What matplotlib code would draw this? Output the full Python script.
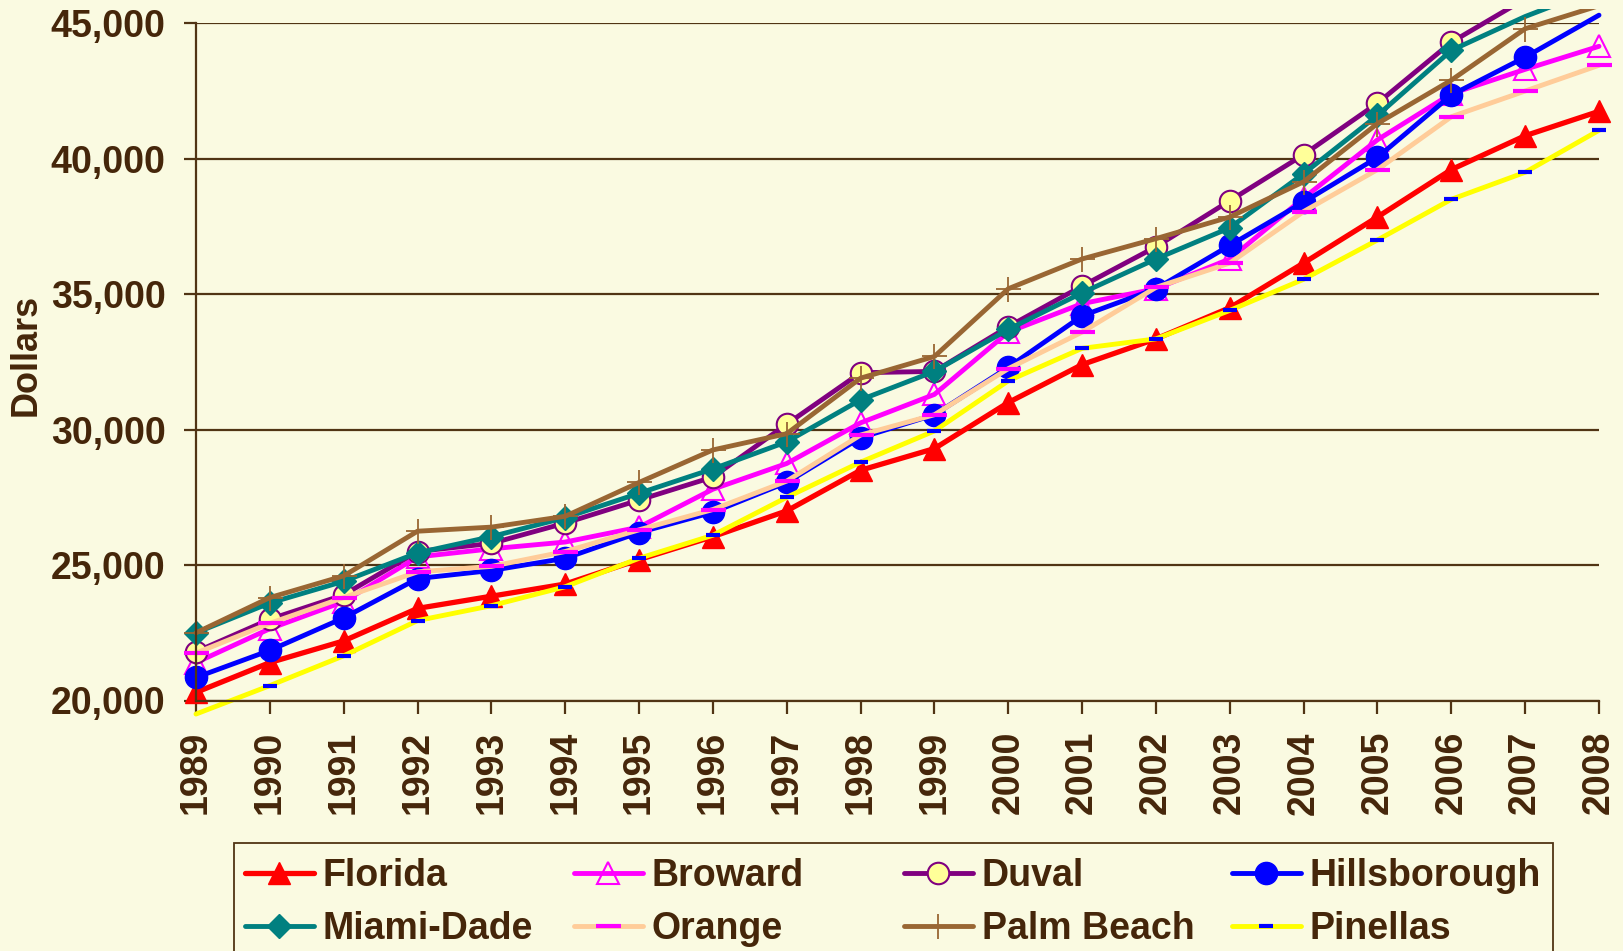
import matplotlib
matplotlib.use("Agg")
import matplotlib.pyplot as plt
from matplotlib.ticker import StrMethodFormatter
from matplotlib.transforms import Bbox, TransformedBbox
from matplotlib.patches import Rectangle

# ---------------- data ----------------
years = list(range(1989, 2009))
year_labels = [str(y) for y in years]

florida = [20300, 21400, 22200, 23400, 23850, 24300, 25200, 26050, 27000, 28500,
           29300, 31000, 32400, 33350, 34500, 36150, 37850, 39600, 40850, 41750]
broward = [21400, 22650, 23650, 25300, 25600, 25850, 26400, 27800, 28750, 30250,
           31300, 33600, 34650, 35200, 36300, 38550, 40700, 42400, 43300, 44150]
duval = [21800, 23000, 23900, 25500, 25800, 26550, 27400, 28250, 30200, 32100,
         32150, 33800, 35300, 36750, 38450, 40150, 42050, 44300, 45900, 47200]
hillsborough = [20850, 21850, 23050, 24500, 24800, 25250, 26200, 26950, 28050, 29700,
                30550, 32300, 34200, 35200, 36800, 38400, 40050, 42350, 43750, 45300]
miami_dade = [22500, 23600, 24400, 25450, 26050, 26750, 27650, 28550, 29550, 31100,
              32150, 33700, 35050, 36300, 37450, 39450, 41600, 44000, 45250, 46300]
orange = [21750, 22850, 23800, 24750, 24950, 25500, 26300, 27050, 28100, 29800,
          30550, 32250, 33600, 35250, 36150, 38050, 39600, 41550, 42500, 43450]
palm_beach = [22500, 23800, 24600, 26250, 26400, 26800, 28050, 29250, 29850, 31900,
              32700, 35200, 36300, 37050, 37850, 39150, 41300, 42900, 44800, 45650]
pinellas = [19500, 20550, 21650, 22950, 23500, 24200, 25250, 26100, 27500, 28800,
            29950, 31800, 33000, 33350, 34400, 35550, 37000, 38500, 39500, 41050]

series_names = ["Florida", "Broward", "Duval", "Hillsborough",
                "Miami-Dade", "Orange", "Palm Beach", "Pinellas"]
series_values = [florida, broward, duval, hillsborough,
                 miami_dade, orange, palm_beach, pinellas]

y_ticks = [20000, 25000, 30000, 35000, 40000, 45000]
y_min, y_max = 20000, 45000

# ---------------- styles ----------------
BG = "#FAFAE1"
TXT = "#45260A"
GRID = "#503414"
FONT = "Liberation Sans"

styles = [
    dict(color="#FF0000", lw=3.8, marker="^", ms=16, mfc="#FF0000", mec="#FF0000", mew=1),
    dict(color="#FF00FF", lw=3.5, marker="^", ms=16, mfc="none", mec="#FF00FF", mew=1.5),
    dict(color="#800080", lw=3.5, marker="o", ms=15.5, mfc="#FFFF99", mec="#800080", mew=1.5),
    dict(color="#0000FF", lw=3.5, marker="o", ms=16, mfc="#0000FF", mec="#0000FF", mew=1),
    dict(color="#008080", lw=3.5, marker="D", ms=12.5, mfc="#008080", mec="#008080", mew=1),
    dict(color="#FFCC99", lw=3.5, marker="_", ms=18, mfc="#FF00FF", mec="#FF00FF", mew=3),
    dict(color="#996633", lw=3.5, marker="+", ms=18, mfc="#996633", mec="#996633", mew=1.3),
    dict(color="#FFFF00", lw=3.5, marker="_", ms=9.5, mfc="#0000FF", mec="#0000FF", mew=3),
]

W, H = 1624, 951
fig = plt.figure(figsize=(W / 100, H / 100), dpi=100, facecolor=BG)
ax = fig.add_axes([196 / W, 1 - 700.5 / H, 1403 / W, 677.2 / H], facecolor=BG)

ax.set_xlim(1989, 2008)
ax.set_ylim(y_min, y_max)

clip = TransformedBbox(Bbox([[1988.5, 18500], [2008.6, 45530]]), ax.transData)

handles = []
for name, vals, st in zip(series_names, series_values, styles):
    shown = [i for i, v in enumerate(vals) if y_min <= v <= y_max]
    (ln,) = ax.plot(years, vals, color=st["color"], lw=st["lw"], marker=st["marker"],
                    ms=st["ms"], mfc=st["mfc"], mec=st["mec"], mew=st["mew"],
                    markevery=shown,
                    solid_joinstyle="round", solid_capstyle="round", label=name)
    ln.set_clip_box(clip)
    handles.append(ln)

# axes styling
for s in ["top", "right"]:
    ax.spines[s].set_visible(False)
for s in ["left", "bottom"]:
    ax.spines[s].set_color(GRID)
    ax.spines[s].set_linewidth(1.6)

ax.set_yticks(y_ticks)
ax.yaxis.set_major_formatter(StrMethodFormatter("{x:,.0f}"))
ax.set_xticks(years)
ax.set_xticklabels(year_labels, rotation=90)

ax.grid(axis="y", color=GRID, lw=1.6)
ax.set_axisbelow(True)
ax.tick_params(axis="both", direction="out", color=GRID, width=1.6, length=9,
               labelcolor=TXT)
ax.tick_params(axis="y", pad=13, labelsize=27)
ax.tick_params(axis="x", pad=13, labelsize=27)
for lab in ax.get_yticklabels() + ax.get_xticklabels():
    lab.set_fontfamily(FONT)
    lab.set_fontweight("bold")

ax.set_ylabel("Dollars", fontsize=26, fontweight="bold", color=TXT, family=FONT)
ax.yaxis.set_label_coords(-0.1085, 0.511)

# ---------------- legend ----------------
fs = 27
col_x = [245, 574, 904, 1232]
row_y = [876, 929]
order = [[0, 4], [1, 5], [2, 6], [3, 7]]
for ci, idxs in enumerate(order):
    for ri, i in enumerate(idxs):
        fig.legend([handles[i]], [series_names[i]], loc="center left",
                   bbox_to_anchor=(col_x[ci] / W, 1 - row_y[ri] / H),
                   frameon=False, borderpad=0, borderaxespad=0,
                   handlelength=1.83, handletextpad=0.24,
                   prop={"family": FONT, "weight": "bold", "size": fs},
                   labelcolor=TXT)

fig.patches.append(Rectangle((234.5 / W, -0.05), (1553 - 234.5) / W,
                             (951 - 842.7) / H + 0.05, transform=fig.transFigure,
                             fill=False, edgecolor=GRID, lw=1.3))

fig.savefig("out.png", dpi=100, facecolor=BG)
